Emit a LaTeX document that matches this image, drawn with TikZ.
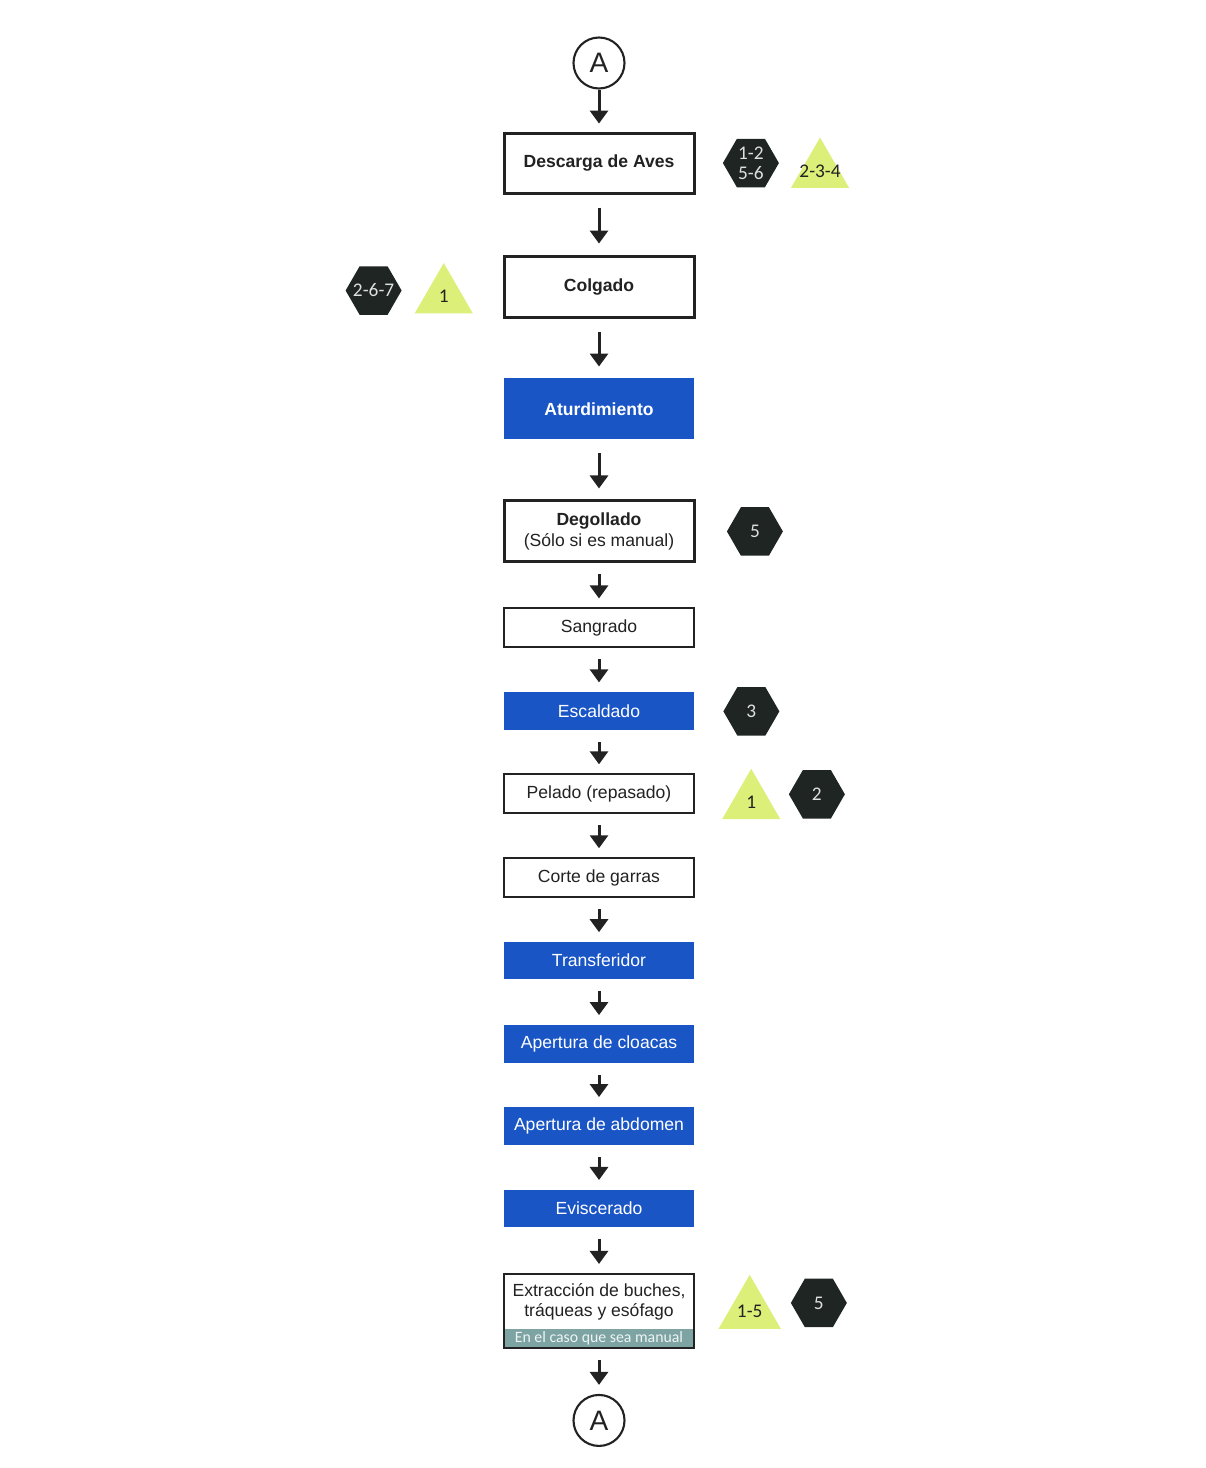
\documentclass[tikz,border=0pt]{standalone}
\usepackage{fontspec}
\setmainfont{Liberation Sans}
\newfontfamily\badgefont{Carlito}
\usepackage{tikz}
\usetikzlibrary{positioning, arrows.meta, shapes.geometric, fit}
\usepackage{xcolor}
\definecolor{procblue}{HTML}{1A55C6}
\definecolor{hexdark}{HTML}{1E2522}
\definecolor{trilime}{HTML}{DCEF78}
\definecolor{bandteal}{HTML}{7DA3A3}
\definecolor{inkgray}{HTML}{222222}

\begin{document}
\begin{tikzpicture}[
    box/.style={draw=inkgray, line width=1.1pt, fill=white, minimum width=3.8cm, minimum height=0.78cm, align=center, text=inkgray, font=\fontsize{10}{12}\selectfont},
    thickbox/.style={box, line width=1.7pt, minimum height=1.22cm},
    bluebox/.style={box, draw=none, fill=procblue, text=white, minimum height=0.76cm},
    noteband/.style={fill=bandteal, minimum width=3.8cm, minimum height=0.38cm, inner sep=0pt, outer sep=0pt, text=white!88!bandteal, font=\badgefont\fontsize{9}{9}\selectfont},
    conn/.style={circle, draw=inkgray, line width=1.2pt, fill=white, minimum size=1.02cm, inner sep=0pt, text=inkgray, font=\fontsize{16}{16}\selectfont},
    hexa/.style={regular polygon, regular polygon sides=6, fill=hexdark, minimum size=1.12cm, inner sep=0pt, align=center, text=white!88!black, font=\badgefont\fontsize{11}{11.3}\selectfont},
    tri/.style={regular polygon, regular polygon sides=3, fill=trilime, minimum size=1.34cm, inner sep=0pt, text=inkgray, font=\badgefont\fontsize{11}{11}\selectfont},
    arr/.style={-{Triangle[length=0.26cm, width=0.36cm]}, line width=1.7pt, inkgray, shorten <=0.22cm, shorten >=0.18cm},
    longarr/.style={arr, shorten <=0.26cm, shorten >=0.22cm}
]
\useasboundingbox (0,0) rectangle (24.1,-29.36);

% Process column
\node[conn] (conA) at (11.98,-1.26) {A};
\node[thickbox, minimum height=1.2cm, below=0.84cm of conA] (desc) {\textbf{Descarga de Aves}};
\node[thickbox, below=1.2cm of desc] (colg) {\textbf{Colgado}};
\node[bluebox, minimum height=1.22cm, below=1.18cm of colg] (atur) {\textbf{Aturdimiento}};
\node[thickbox, below=1.18cm of atur] (deg) {\textbf{Degollado}\\(Sólo si es manual)};
\node[box, below=0.88cm of deg] (sang) {Sangrado};
\node[bluebox, below=0.86cm of sang] (esc) {Escaldado};
\node[box, below=0.84cm of esc] (pel) {Pelado (repasado)};
\node[box, below=0.86cm of pel] (corte) {Corte de garras};
\node[bluebox, minimum height=0.74cm, below=0.86cm of corte] (transf) {Transferidor};
\node[bluebox, below=0.88cm of transf] (cloac) {Apertura de cloacas};
\node[bluebox, below=0.84cm of cloac] (abdom) {Apertura de abdomen};
\node[bluebox, minimum height=0.74cm, below=0.86cm of abdom] (evis) {Eviscerado};
\node[box, draw=none, outer sep=0pt, minimum height=1.1cm, font=\fontsize{10}{11.3}\selectfont, below=0.92cm of evis] (ext) {Extracción de buches,\\tráqueas y esófago};
\node[noteband, below=0pt of ext] (extnote) {En el caso que sea manual};
\node[draw=inkgray, line width=1.1pt, inner sep=0pt, fit=(ext)(extnote)] (extbox) {};
\node[conn, below=0.9cm of extbox] (conB) {A};

% Badges
\node[hexa, right=0.54cm of desc] (hdesc) {1-2\\5-6};
\node[tri, right=0.42cm of hdesc, yshift=-0.16cm] (tdesc) {\makebox[0pt]{2-3-4}};
\node[tri, left=0.78cm of colg, yshift=-0.2cm] (tcolg) {1};
\node[hexa, left=0.44cm of tcolg, yshift=0.12cm] (hcolg) {\makebox[0pt]{2-6-7}};
\node[hexa, right=0.62cm of deg] (hdeg) {5};
\node[hexa, right=0.56cm of esc] (hesc) {3};
\node[tri, right=0.73cm of pel, yshift=-0.17cm] (tpel) {1};
\node[hexa, right=0.35cm of tpel, yshift=0.16cm] (hpel) {2};
\node[tri, right=0.67cm of extbox] (tbuch) {1-5};
\node[hexa, right=0.39cm of tbuch, yshift=0.16cm] (hbuch) {5};

% Arrows
\draw[arr, shorten <=0pt, shorten >=0.16cm] (conA) -- (desc);
\foreach \a/\b in {desc/colg, colg/atur, atur/deg}
    \draw[longarr] (\a) -- (\b);
\foreach \a/\b in {deg/sang, sang/esc, esc/pel, pel/corte, corte/transf, transf/cloac, cloac/abdom, abdom/evis, evis/extbox, extbox/conB}
    \draw[arr] (\a) -- (\b);

\end{tikzpicture}
\end{document}
